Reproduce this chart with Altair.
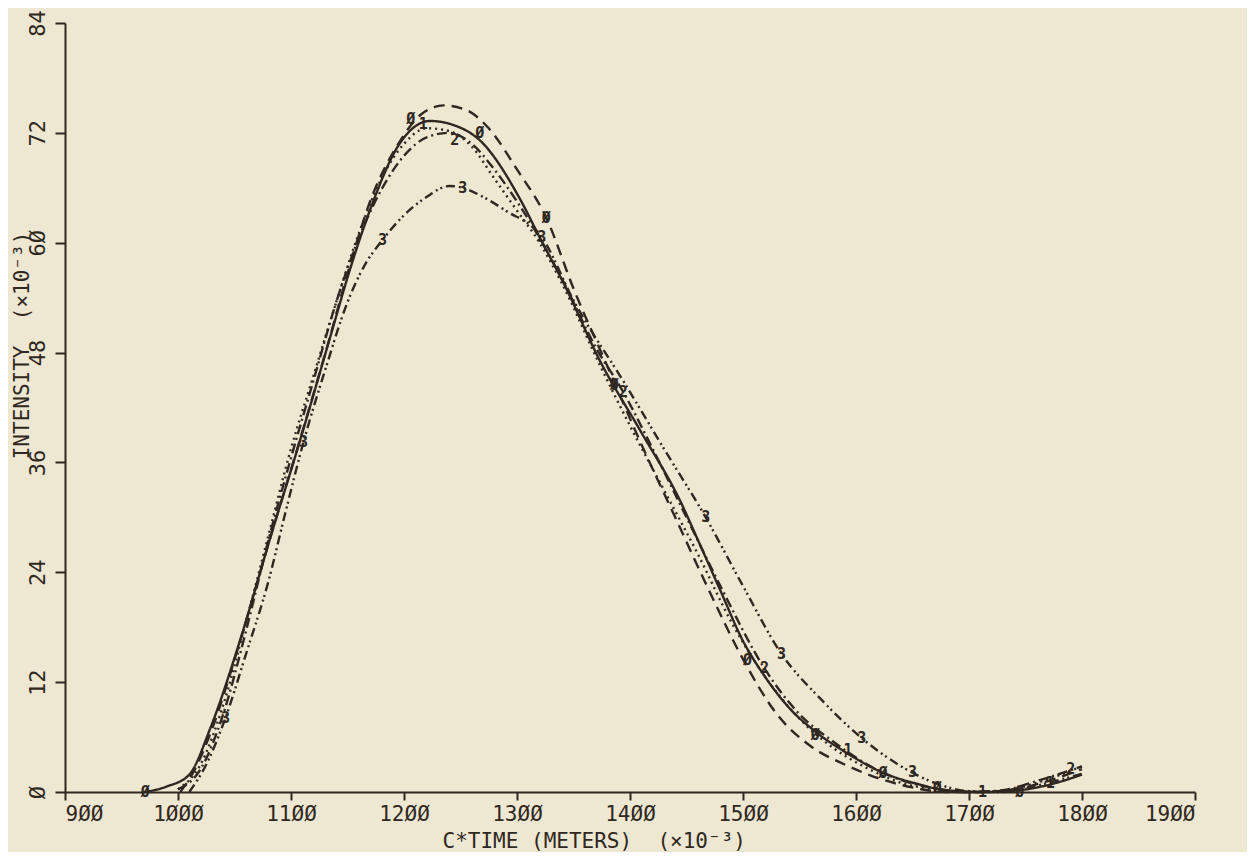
import altair as alt
import pandas as pd

# ---------------- data ----------------
solid_x = [971, 990, 1010, 1029, 1055, 1081, 1108, 1134, 1152, 1170, 1196, 1223, 1245, 1267, 1303, 1320, 1342, 1373, 1409, 1444, 1462, 1480, 1500, 1520, 1540, 1564, 1590, 1624, 1657, 1679, 1714, 1745, 1780, 1800]
solid_y = [0, 0.6, 1.9, 7.1, 16.6, 27.5, 38.4, 49.4, 57, 63.6, 70.8, 73.3, 72.8, 71.2, 64.7, 60.6, 55.4, 47.2, 39.5, 31.9, 27, 22, 16.5, 12.5, 9.3, 6.6, 4.4, 2.1, 0.8, 0.2, 0, 0.2, 1.1, 1.9]

dash_x = [1002, 1015, 1029, 1055, 1081, 1108, 1134, 1152, 1170, 1196, 1215, 1235, 1255, 1275, 1300, 1326, 1350, 1380, 1410, 1440, 1470, 1500, 1530, 1560, 1590, 1620, 1650, 1680, 1710, 1740, 1770, 1800]
dash_y = [0, 2.5, 6.5, 16.5, 27.5, 38.5, 49.5, 57.5, 64.5, 71, 74, 75, 74.5, 72.5, 68, 62.7, 55, 46.5, 38, 30, 22, 14.5, 8.5, 5, 3, 1.5, 0.5, 0, 0, 0.3, 1.2, 2.5]

dot_x = [1000, 1020, 1040, 1060, 1080, 1100, 1120, 1140, 1160, 1180, 1200, 1220, 1240, 1260, 1280, 1300, 1320, 1340, 1370, 1400, 1430, 1460, 1490, 1520, 1550, 1580, 1610, 1640, 1670, 1700, 1730, 1760, 1800]
dot_y = [0.3, 3, 9.5, 18.5, 28, 37.5, 45.5, 53.5, 61, 67, 70.8, 72.5, 72.2, 70.5, 67, 63.5, 60, 55.5, 47.5, 40, 33, 26, 18.5, 12.5, 8, 4.8, 2.6, 1, 0.3, 0, 0.1, 1, 2.8]

dashdot_x = [1000, 1020, 1040, 1060, 1080, 1100, 1120, 1140, 1160, 1180, 1200, 1220, 1240, 1260, 1280, 1300, 1320, 1340, 1370, 1394, 1420, 1450, 1480, 1519, 1550, 1580, 1610, 1640, 1670, 1700, 1730, 1760, 1800]
dashdot_y = [0.3, 2.5, 8.5, 17.5, 27.5, 36.5, 45, 53.5, 60.5, 65.8, 69.5, 71.5, 72.0, 70.8, 68, 64.5, 60.5, 56, 48.5, 43.7, 37.5, 30, 22.5, 13.5, 8.5, 5.5, 3, 1.3, 0.4, 0, 0.2, 1.2, 2.8]

dd_x = [1010, 1025, 1042, 1060, 1080, 1095, 1111, 1130, 1150, 1165, 1181, 1200, 1220, 1240, 1252, 1270, 1290, 1322, 1350, 1396, 1430, 1467, 1500, 1534, 1570, 1605, 1640, 1674, 1700, 1730, 1760, 1800]
dd_y = [0, 3, 8.1, 15, 23, 30.5, 38.2, 46, 53.5, 57.5, 60.3, 63, 65, 66.2, 66.0, 65, 63.5, 60.6, 53.7, 44.5, 37.5, 30, 22.5, 15.1, 10, 5.9, 2.8, 0.8, 0.1, 0, 0.7, 2.0]

# marker symbols placed on the curves
mk0_x = [971, 1206, 1267, 1326, 1386, 1504, 1564, 1624, 1672, 1745]
mk0_y = [0, 73.5, 72.0, 62.7, 44.5, 14.4, 6.2, 2.1, 0.4, 0]
mk1_x = [1217, 1593, 1712, 1772]
mk1_y = [73.0, 4.6, 0, 1.0]
mk2_x = [1245, 1394, 1519, 1790]
mk2_y = [71.2, 43.7, 13.5, 2.5]
mk3_x = [1042, 1111, 1181, 1252, 1322, 1467, 1534, 1605, 1650]
mk3_y = [8.1, 38.2, 60.3, 66.0, 60.6, 30.0, 15.1, 5.9, 2.2]

x_ticks = [900, 1000, 1100, 1200, 1300, 1400, 1500, 1600, 1700, 1800, 1900]
y_ticks = [0, 12, 24, 36, 48, 60, 72, 84]

INK = "#2f2721"
PAPER = "#eee8d3"
FONT = "DejaVu Sans Mono"

# ---------------- build tables ----------------
series = [
    ("s", solid_x, solid_y, []),
    ("d", dash_x, dash_y, [11, 7]),
    ("o", dot_x, dot_y, [2, 4]),
    ("dd", dashdot_x, dashdot_y, [10, 4, 2, 4]),
    ("ddd", dd_x, dd_y, [9, 4, 2, 3, 2, 4]),
]

xs = alt.Scale(domain=[900, 1900], nice=False, zero=False)
ys = alt.Scale(domain=[0, 84], nice=False, zero=False)

slash0 = "replace(toString(datum.value), regexp('0', 'g'), '\u00d8')"

xax = alt.Axis(values=x_ticks, title="C*TIME (METERS)\u00a0\u00a0(\u00d710\u207b\u00b3)",
               labelExpr=slash0, labelFontSize=21,
               titleX=377, titleAlign="left", titleY=55, titleBaseline="alphabetic",
               grid=False, tickSize=8, labelPadding=3)
yax = alt.Axis(values=y_ticks, title="INTENSITY\u00a0\u00a0(\u00d710\u207b\u00b3)",
               labelExpr=slash0, labelFontSize=22,
               labelAngle=270, labelAlign="center", labelBaseline="bottom",
               titleAngle=270, titleX=-43, titleY=322, titleAlign="center", titleBaseline="middle",
               grid=False, tickSize=10, labelPadding=6)

layers = []
first = True
for name, sx, sy, dash in series:
    df = pd.DataFrame({"x": sx, "y": sy})
    mk = alt.Chart(df).mark_line(color=INK, strokeWidth=2.4, interpolate="monotone",
                                 strokeDash=dash if dash else [1, 0])
    if first:
        enc = mk.encode(x=alt.X("x:Q", scale=xs, axis=xax), y=alt.Y("y:Q", scale=ys, axis=yax))
        first = False
    else:
        enc = mk.encode(x=alt.X("x:Q", scale=xs), y=alt.Y("y:Q", scale=ys))
    layers.append(enc)

for sym, mx, my in [("\u00d8", mk0_x, mk0_y), ("1", mk1_x, mk1_y), ("2", mk2_x, mk2_y), ("3", mk3_x, mk3_y)]:
    df = pd.DataFrame({"x": mx, "y": my})
    layers.append(
        alt.Chart(df).mark_text(text=sym, font=FONT, fontSize=15, fontWeight="bold", color=INK)
        .encode(x=alt.X("x:Q", scale=xs), y=alt.Y("y:Q", scale=ys))
    )

chart = alt.layer(*layers).properties(
    width=1130, height=769,
    padding={"left": 57, "top": 15, "right": 52, "bottom": 60},
    autosize=alt.AutoSizeParams(type="none"),
    background=PAPER,
).configure_view(stroke=None).configure_axis(
    domainColor=INK, domainWidth=2, tickColor=INK, tickWidth=2,
    labelFont=FONT, labelColor=INK,
    titleFont=FONT, titleFontSize=21, titleColor=INK, titleFontWeight="normal",
)

chart.save("out.html", embed_options={"renderer": "svg", "actions": False})
